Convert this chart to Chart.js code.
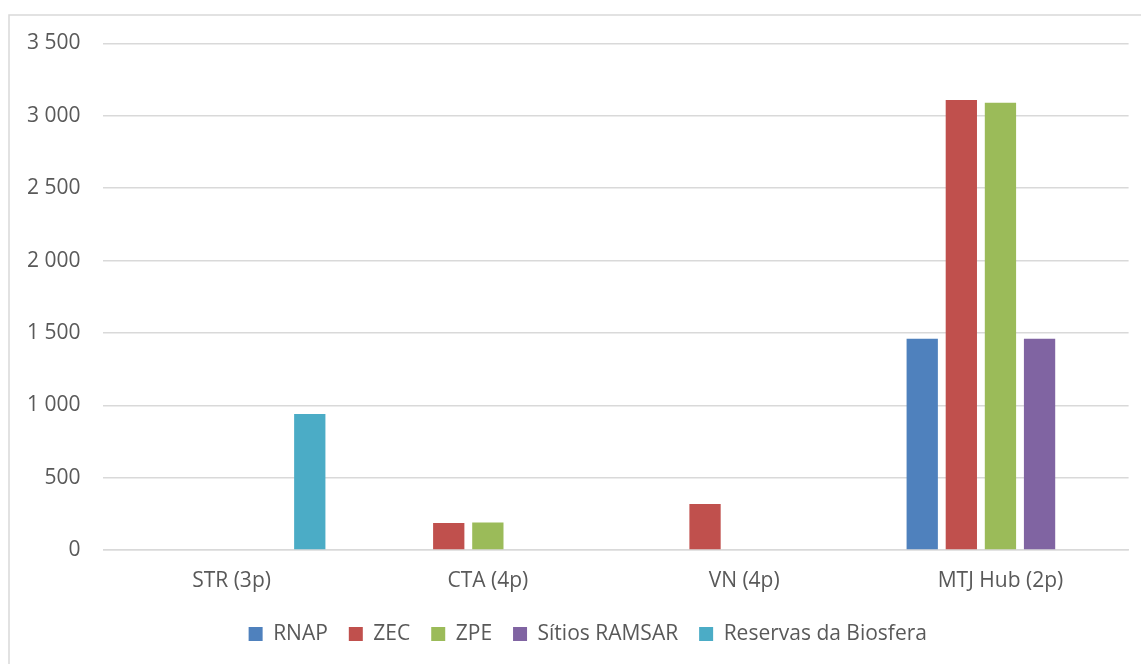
<!DOCTYPE html>
<html>
<head>
<meta charset="utf-8">
<script src="https://cdn.jsdelivr.net/npm/chart.js@4"></script>
<style>
  html, body { margin: 0; padding: 0; background: #ffffff; }
  #wrap { position: relative; width: 1141px; height: 664px; }
</style>
</head>
<body>
<div id="wrap"><canvas id="c" width="1141" height="664"></canvas></div>
<script>
// ---- data ----
const categories = ['STR (3p)', 'CTA (4p)', 'VN (4p)', 'MTJ Hub (2p)'];
const seriesNames = ['RNAP', 'ZEC', 'ZPE', 'Sítios RAMSAR', 'Reservas da Biosfera'];
const rnap     = [null, null, null, 1460];
const zec      = [null, 187, 318, 3110];
const zpe      = [null, 190, null, 3090];
const ramsar   = [null, null, null, 1460];
const reservas = [940, null, null, null];
const yTicks   = [0, 500, 1000, 1500, 2000, 2500, 3000, 3500];

const colors = ['#4F81BD', '#C0504D', '#9BBB59', '#8064A2', '#4BACC6'];
const seriesValues = [rnap, zec, zpe, ramsar, reservas];

const FONT = "'Open Sans', sans-serif";
const TXT = '#595959';
const GRID = '#d9d9d9';

const frame = {
  id: 'frame',
  beforeDraw(chart) {
    const ctx = chart.ctx;
    ctx.save();
    ctx.fillStyle = '#ffffff';
    ctx.fillRect(0, 0, chart.width, chart.height);
    ctx.strokeStyle = GRID;
    ctx.lineWidth = 1.5;
    ctx.strokeRect(9, 15, chart.width + 50, chart.height + 50);
    ctx.restore();
  }
};

const legendShift = {
  id: 'legendShift',
  afterLayout(chart) {
    if (chart.legend) { chart.legend.left += 38; }
  }
};

const fmt = v => String(v).replace(/\B(?=(\d{3})+(?!\d))/g, ' ');

new Chart(document.getElementById('c'), {
  type: 'bar',
  data: {
    labels: categories,
    datasets: seriesNames.map((n, i) => ({
      label: n,
      data: seriesValues[i],
      backgroundColor: colors[i],
      borderWidth: 0,
      categoryPercentage: 0.763,
      barPercentage: 0.8
    }))
  },
  options: {
    responsive: false,
    animation: false,
    devicePixelRatio: 1,
    layout: { padding: { left: 9, right: 12.4, top: 43.5, bottom: 9.5 } },
    plugins: {
      legend: {
        position: 'bottom',
        labels: {
          font: { family: FONT, size: 21 },
          color: TXT,
          boxWidth: 14,
          boxHeight: 14,
          padding: 21
        }
      },
      tooltip: { enabled: false }
    },
    scales: {
      x: {
        grid: { display: false, drawTicks: false },
        border: { display: true, color: GRID, width: 1.5 },
        ticks: { font: { family: FONT, size: 21 }, color: TXT, padding: 18.4, maxRotation: 0 },
        afterFit(s) { s.height = 52.5; }
      },
      y: {
        min: 0,
        max: 3500,
        afterBuildTicks(s) { s.ticks = yTicks.map(v => ({ value: v })); },
        grid: { color: GRID, lineWidth: 1.5, drawTicks: false },
        border: { display: false },
        ticks: { font: { family: FONT, size: 21 }, color: TXT, padding: 23, callback: v => fmt(v) },
        afterFit(s) { s.width = 103.4 - 9; }
      }
    }
  },
  plugins: [frame, legendShift]
});
</script>
</body>
</html>
